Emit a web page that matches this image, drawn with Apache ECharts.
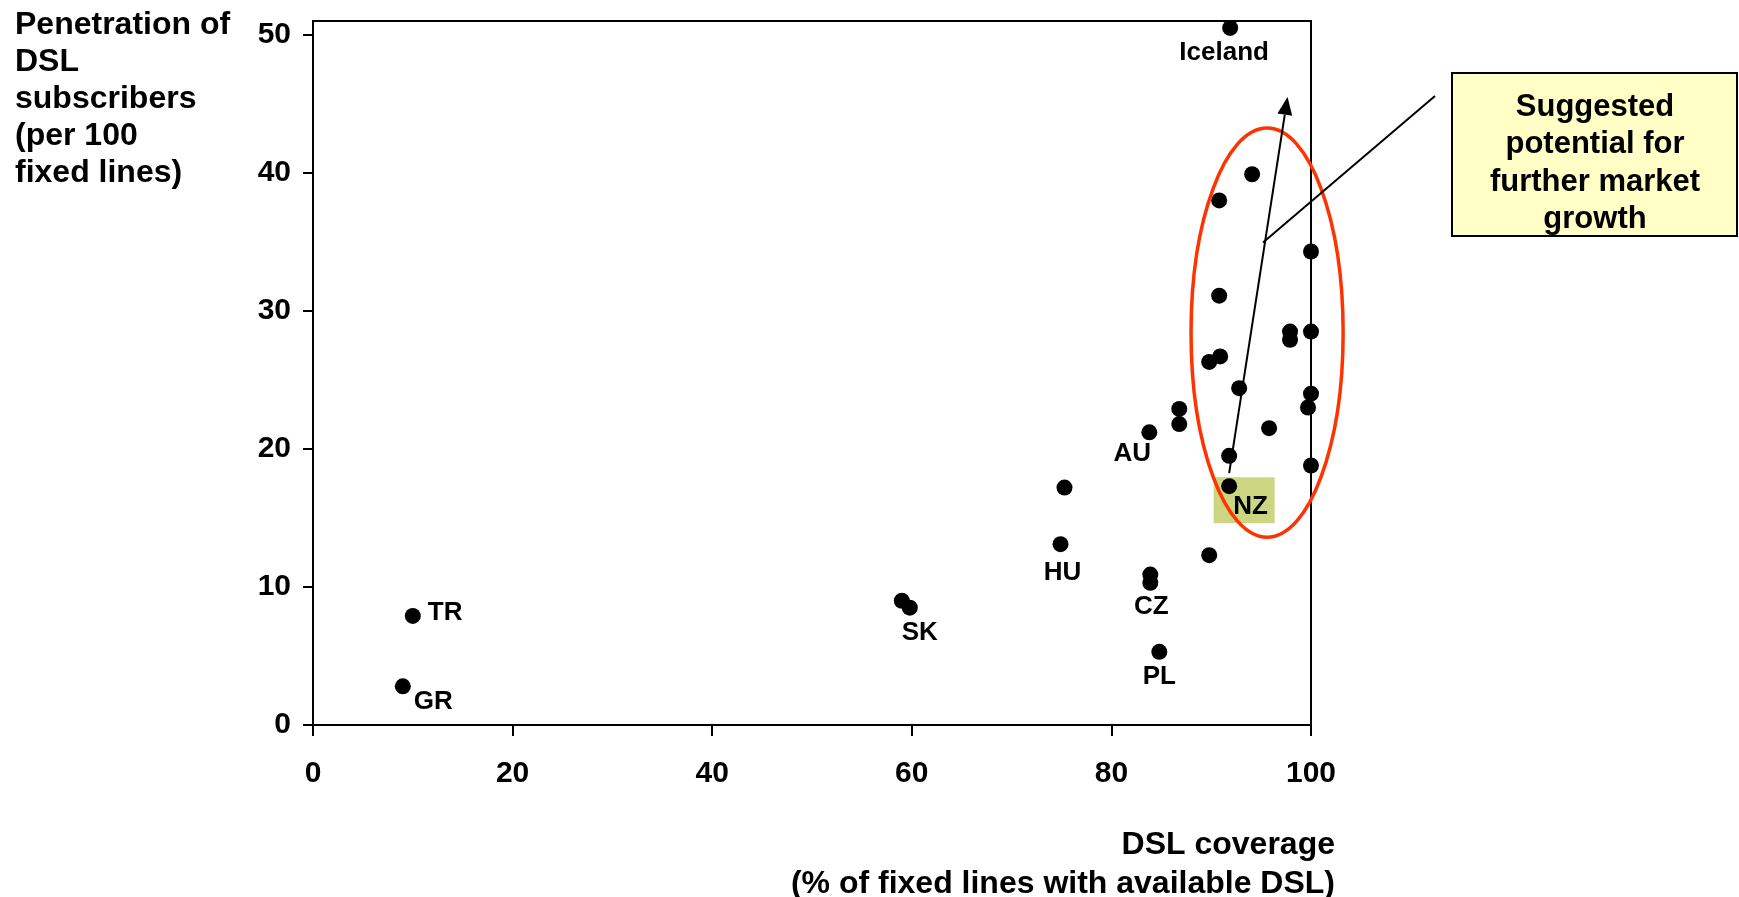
<!DOCTYPE html>
<html>
<head>
<meta charset="utf-8">
<script src="https://cdn.jsdelivr.net/npm/echarts@6/dist/echarts.min.js"></script>
<style>
  html, body { margin: 0; padding: 0; background: #fff; }
  #chart { width: 1739px; height: 897px; }
</style>
</head>
<body>
<div id="chart"></div>
<script>
// DSL coverage vs. DSL penetration, one dot per country
const countries = [
  'Iceland', '', '', '', '', '', '', '', '', '',
  '', '', '', 'AU', '', '', '', '', '', 'NZ',
  '', 'HU', '', '', 'CZ', '', 'SK', 'TR', 'GR', 'PL'
];
const coverage = [
  91.9, 94.1, 90.8, 100, 90.8, 97.9, 97.9, 100, 90.9, 89.8,
  92.8, 86.8, 86.8, 83.8, 95.8, 100, 99.7, 91.8, 100, 91.8,
  75.3, 74.9, 89.8, 83.9, 83.9, 59.0, 59.8, 10.0, 9.0, 84.8
];
const penetration = [
  50.5, 39.9, 38.0, 34.3, 31.1, 28.5, 27.9, 28.5, 26.7, 26.3,
  24.4, 22.9, 21.8, 21.2, 21.5, 24.0, 23.0, 19.5, 18.8, 17.3,
  17.2, 13.1, 12.3, 10.9, 10.3, 9.0, 8.5, 7.9, 2.8, 5.3
];
const xTicks = [0, 20, 40, 60, 80, 100];
const yTicks = [0, 10, 20, 30, 40, 50];

const highlightedCountry = 'NZ';
const yTitle = 'Penetration of\nDSL\nsubscribers\n(per 100\nfixed lines)';
const xTitle = 'DSL coverage\n(% of fixed lines with available DSL)';
const calloutText = 'Suggested\npotential for\nfurther market\ngrowth';

const FONT = "'Liberation Sans', Arial, Helvetica, sans-serif";

// where each country name sits relative to its dot (pixels from the dot centre)
const labelPlacement = {
  Iceland: { align: 'center', offset: [-6, 25] },
  TR: { align: 'left', offset: [15, -3] },
  GR: { align: 'left', offset: [11, 15] },
  SK: { align: 'center', offset: [10, 25] },
  HU: { align: 'center', offset: [2, 29] },
  CZ: { align: 'center', offset: [1, 24] },
  PL: { align: 'center', offset: [0, 25] },
  AU: { align: 'center', offset: [-17, 21] },
  NZ: { align: 'left', offset: [4, 21] }
};

const points = coverage.map((x, i) => {
  const name = countries[i];
  const item = { name: name, value: [x, penetration[i]] };
  if (name && labelPlacement[name]) {
    const p = labelPlacement[name];
    item.label = {
      show: true,
      position: 'inside',
      align: p.align,
      verticalAlign: 'middle',
      offset: p.offset,
      color: '#000',
      formatter: '{b}'
    };
  }
  return item;
});

const hiIdx = countries.indexOf(highlightedCountry);

const chart = echarts.init(document.getElementById('chart'), null, { renderer: 'canvas' });

const axisText = { fontSize: 30, fontWeight: 'bold', color: '#000', fontFamily: FONT };

chart.setOption({
  animation: false,
  backgroundColor: '#fff',
  grid: {
    left: 313, right: 428, top: 21, bottom: 172,
    containLabel: false,
    outerBoundsMode: 'none',
    show: true,
    borderColor: '#000',
    borderWidth: 2,
    backgroundColor: 'transparent'
  },
  xAxis: {
    type: 'value',
    min: 0, max: 100, interval: 20,
    axisLine: { show: true, onZero: false, lineStyle: { color: '#000', width: 2 } },
    axisTick: { show: true, inside: false, length: 11, lineStyle: { color: '#000', width: 2 }, customValues: xTicks },
    axisLabel: Object.assign({ margin: 34, customValues: xTicks }, axisText),
    splitLine: { show: false }
  },
  yAxis: {
    type: 'value',
    min: 0, max: 51, interval: 10,
    axisLine: { show: true, onZero: false, lineStyle: { color: '#000', width: 2 } },
    axisTick: { show: true, inside: false, length: 10, lineStyle: { color: '#000', width: 2 }, customValues: yTicks },
    axisLabel: Object.assign({
      margin: 22,
      customValues: yTicks,
      formatter: v => (yTicks.indexOf(v) >= 0 ? String(v) : '')
    }, axisText),
    splitLine: { show: false }
  },
  series: [
    {
      // shaded tag behind the highlighted country
      type: 'scatter',
      silent: true,
      z: 1,
      clip: false,
      symbol: 'rect',
      symbolSize: [61, 46],
      symbolOffset: [15, 14],
      itemStyle: { color: '#CCD680', opacity: 1 },
      data: [[coverage[hiIdx], penetration[hiIdx]]]
    },
    {
      type: 'scatter',
      z: 3,
      clip: false,
      symbol: 'circle',
      symbolSize: 16,
      itemStyle: { color: '#000', opacity: 1 },
      label: {
        show: false,
        color: '#000',
        fontSize: 26,
        fontWeight: 'bold',
        fontFamily: FONT
      },
      data: points
    }
  ]
});

// annotations: growth ellipse, trend arrow, callout box and axis titles
const toPx = p => chart.convertToPixel({ gridIndex: 0 }, p);

const ellC = toPx([95.6, 28.42]);
const ellE = toPx([95.6 + 7.62, 28.42 + 14.82]);

const tail = toPx([91.8, 18.25]);
const tip = toPx([97.65, 45.5]);
const dx = tip[0] - tail[0], dy = tip[1] - tail[1];
const len = Math.sqrt(dx * dx + dy * dy);
const ux = dx / len, uy = dy / len;
const headLen = 18, headHalf = 7.5;
const base = [tip[0] - ux * headLen, tip[1] - uy * headLen];
const head = [
  tip,
  [base[0] - uy * headHalf, base[1] + ux * headHalf],
  [base[0] + uy * headHalf, base[1] - ux * headHalf]
];

const calloutStart = toPx([95.19, 34.95]);

chart.setOption({
  graphic: [
    {
      type: 'ellipse', z: 10, silent: true,
      shape: { cx: ellC[0], cy: ellC[1], rx: ellE[0] - ellC[0], ry: ellC[1] - ellE[1] },
      style: { fill: 'none', stroke: '#FF3300', lineWidth: 3.5 }
    },
    {
      type: 'line', z: 11, silent: true,
      shape: { x1: tail[0], y1: tail[1], x2: base[0], y2: base[1] },
      style: { stroke: '#000', lineWidth: 2 }
    },
    {
      type: 'polygon', z: 11, silent: true,
      shape: { points: head },
      style: { fill: '#000' }
    },
    {
      type: 'line', z: 11, silent: true,
      shape: { x1: calloutStart[0], y1: calloutStart[1], x2: 1435, y2: 96 },
      style: { stroke: '#000', lineWidth: 2 }
    },
    {
      type: 'rect', z: 12, silent: true,
      shape: { x: 1452, y: 73, width: 285, height: 163 },
      style: { fill: '#FFFFC6', stroke: '#000', lineWidth: 2 }
    },
    {
      type: 'text', z: 13, silent: true,
      x: 1595, y: 163.5,
      style: {
        text: calloutText,
        align: 'center', verticalAlign: 'middle',
        fontSize: 31, fontWeight: 'bold', fontFamily: FONT,
        lineHeight: 37.5, fill: '#000'
      }
    },
    {
      type: 'text', z: 13, silent: true,
      x: 15, y: 6.5,
      style: {
        text: yTitle,
        align: 'left', verticalAlign: 'top',
        fontSize: 32, fontWeight: 'bold', fontFamily: FONT,
        lineHeight: 37, fill: '#000'
      }
    },
    {
      type: 'text', z: 13, silent: true,
      x: 1335, y: 826,
      style: {
        text: xTitle,
        align: 'right', verticalAlign: 'top',
        fontSize: 32, fontWeight: 'bold', fontFamily: FONT,
        lineHeight: 39, fill: '#000'
      }
    }
  ]
});
</script>
</body>
</html>
